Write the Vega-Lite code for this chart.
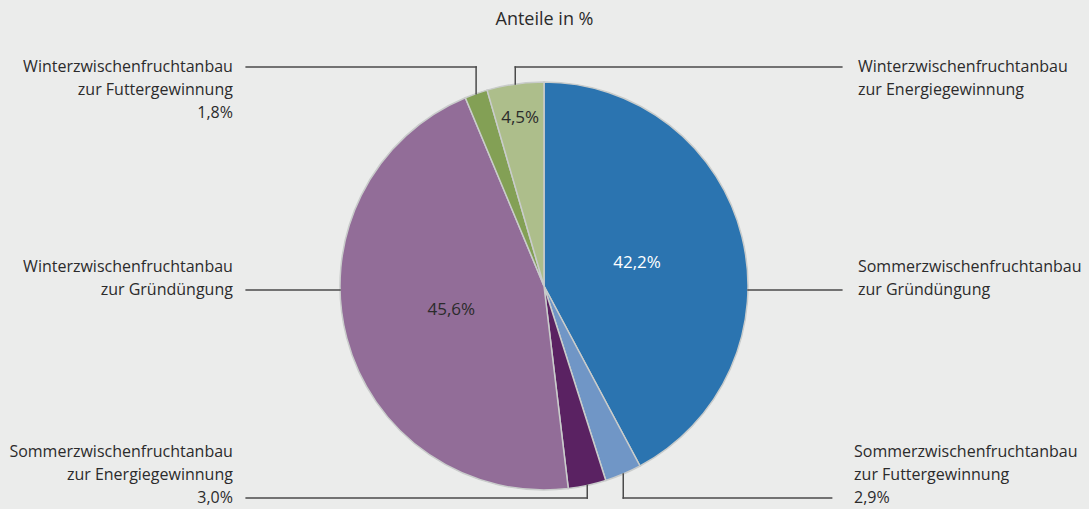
{
  "$schema": "https://vega.github.io/schema/vega-lite/v6.json",
  "width": 1089,
  "height": 469,
  "autosize": {"type": "none"},
  "padding": {"top": 40, "left": 0, "right": 0, "bottom": 0},
  "background": "#ebeceb",
  "title": {
    "text": "Anteile in %",
    "anchor": "middle",
    "frame": "group",
    "orient": "top",
    "offset": 11,
    "font": "Open Sans",
    "fontSize": 18,
    "fontWeight": "normal",
    "color": "#2b2b2b"
  },
  "data": {
    "values": [
      {"nr": 1, "id": "SG", "anbau": "Sommerzwischenfruchtanbau", "zweck": "zur Gründüngung", "anteil": 42.2},
      {"nr": 2, "id": "SF", "anbau": "Sommerzwischenfruchtanbau", "zweck": "zur Futtergewinnung", "anteil": 2.9},
      {"nr": 3, "id": "SE", "anbau": "Sommerzwischenfruchtanbau", "zweck": "zur Energiegewinnung", "anteil": 3.0},
      {"nr": 4, "id": "WG", "anbau": "Winterzwischenfruchtanbau", "zweck": "zur Gründüngung", "anteil": 45.6},
      {"nr": 5, "id": "WF", "anbau": "Winterzwischenfruchtanbau", "zweck": "zur Futtergewinnung", "anteil": 1.8},
      {"nr": 6, "id": "WE", "anbau": "Winterzwischenfruchtanbau", "zweck": "zur Energiegewinnung", "anteil": 4.5}
    ]
  },
  "transform": [
    {"window": [{"op": "sum", "field": "anteil", "as": "kum"}], "sort": [{"field": "nr", "order": "ascending"}], "frame": [null, 0]},
    {"joinaggregate": [{"op": "sum", "field": "anteil", "as": "gesamt"}]},
    {"calculate": "2 * PI * (datum.kum - datum.anteil / 2) / datum.gesamt", "as": "mitte"},
    {"calculate": "sin(datum.mitte)", "as": "sx"},
    {"calculate": "cos(datum.mitte)", "as": "cy"},
    {"calculate": "datum.cy > 0.9 ? 1.0735 : (datum.cy < -0.9 ? -1.039 : -0.02)", "as": "ebene"},
    {"joinaggregate": [{"op": "count", "as": "nEbene"}], "groupby": ["ebene"]},
    {"window": [{"op": "row_number", "as": "rangEbene"}], "sort": [{"field": "sx", "order": "ascending"}], "groupby": ["ebene"]},
    {"calculate": "datum.nEbene == 1 ? (datum.sx < 0 ? -1 : 1) : (datum.rangEbene == 1 ? -1 : 1)", "as": "seite"},
    {"calculate": "abs(datum.ebene) < 0.5 ? datum.seite : datum.sx", "as": "ankerX"},
    {"calculate": "abs(datum.ebene) < 0.5 ? datum.ebene : datum.cy", "as": "ankerY"},
    {"calculate": "datum.seite < 0 ? -1.46 : (datum.ebene < -0.5 ? 1.41 : 1.46)", "as": "endeX"},
    {"calculate": "datum.seite < 0 ? -1.525 : (datum.ebene < -0.5 ? 1.52 : 1.539)", "as": "textX"},
    {"calculate": "replace(format(datum.anteil, '.1f'), '.', ',') + '%'", "as": "prozent"}
  ],
  "layer": [
    {
      "mark": {"type": "arc", "outerRadius": 204, "stroke": "#c9cccb", "strokeWidth": 1.5},
      "encoding": {
        "theta": {"field": "anteil", "type": "quantitative", "stack": true},
        "order": {"field": "nr", "type": "quantitative"},
        "color": {
          "field": "id",
          "type": "nominal",
          "scale": {
            "domain": ["SG", "SF", "SE", "WG", "WF", "WE"],
            "range": ["#2b74b0", "#7096c6", "#5a2262", "#926d98", "#83a055", "#adbe8b"]
          },
          "legend": null
        },
        "x": {"datum": 0, "type": "quantitative", "scale": {"domain": [-2.6667, 2.6716], "nice": false, "zero": false}, "axis": null},
        "y": {"datum": 0, "type": "quantitative", "scale": {"domain": [-1.0931, 1.2059], "nice": false, "zero": false}, "axis": null}
      }
    },
    {
      "transform": [{"filter": "abs(datum.ebene) > 0.5"}],
      "mark": {"type": "rule", "color": "#4a4a4a", "strokeWidth": 1.5, "strokeCap": "square"},
      "encoding": {
        "x": {"field": "ankerX", "type": "quantitative"},
        "y": {"field": "ankerY", "type": "quantitative"},
        "y2": {"field": "ebene"}
      }
    },
    {
      "mark": {"type": "rule", "color": "#4a4a4a", "strokeWidth": 1.5, "strokeCap": "square"},
      "encoding": {
        "x": {"field": "ankerX", "type": "quantitative"},
        "x2": {"field": "endeX"},
        "y": {"field": "ebene", "type": "quantitative"}
      }
    },
    {
      "transform": [
        {"filter": "datum.seite < 0"},
        {"calculate": "datum.anteil < 4 ? [datum.anbau, datum.zweck, datum.prozent] : [datum.anbau, datum.zweck]", "as": "zeilen"},
        {"flatten": ["zeilen"], "as": ["zeile"]},
        {"window": [{"op": "row_number", "as": "nrZeile"}], "groupby": ["id"]},
        {"joinaggregate": [{"op": "count", "as": "nZeilen"}], "groupby": ["id"]},
        {"calculate": "datum.ebene > 0.5 ? datum.ebene - (datum.nrZeile - 1) * 0.1127 : datum.ebene - (datum.nrZeile - datum.nZeilen) * 0.1127", "as": "textY"}
      ],
      "mark": {"type": "text", "align": "right", "baseline": "middle", "font": "Open Sans", "fontSize": 16, "color": "#2b2b2b"},
      "encoding": {
        "x": {"field": "textX", "type": "quantitative"},
        "y": {"field": "textY", "type": "quantitative"},
        "text": {"field": "zeile"}
      }
    },
    {
      "transform": [
        {"filter": "datum.seite > 0"},
        {"calculate": "datum.anteil < 4 ? [datum.anbau, datum.zweck, datum.prozent] : [datum.anbau, datum.zweck]", "as": "zeilen"},
        {"flatten": ["zeilen"], "as": ["zeile"]},
        {"window": [{"op": "row_number", "as": "nrZeile"}], "groupby": ["id"]},
        {"joinaggregate": [{"op": "count", "as": "nZeilen"}], "groupby": ["id"]},
        {"calculate": "datum.ebene > 0.5 ? datum.ebene - (datum.nrZeile - 1) * 0.1127 : datum.ebene - (datum.nrZeile - datum.nZeilen) * 0.1127", "as": "textY"}
      ],
      "mark": {"type": "text", "align": "left", "baseline": "middle", "font": "Open Sans", "fontSize": 16, "color": "#2b2b2b"},
      "encoding": {
        "x": {"field": "textX", "type": "quantitative"},
        "y": {"field": "textY", "type": "quantitative"},
        "text": {"field": "zeile"}
      }
    },
    {
      "transform": [
        {"filter": "datum.anteil >= 4"},
        {"calculate": "datum.anteil < 10 ? 0.83 : 0.47", "as": "r"},
        {"calculate": "datum.r * datum.sx", "as": "ix"},
        {"calculate": "datum.r * datum.cy", "as": "iy"}
      ],
      "mark": {"type": "text", "align": "center", "baseline": "middle", "font": "Open Sans", "fontSize": 17},
      "encoding": {
        "x": {"field": "ix", "type": "quantitative"},
        "y": {"field": "iy", "type": "quantitative"},
        "text": {"field": "prozent"},
        "color": {"condition": {"test": "datum.id === 'SG'", "value": "#ffffff"}, "value": "#2b2b2b"}
      }
    }
  ],
  "config": {"view": {"stroke": null}}
}
